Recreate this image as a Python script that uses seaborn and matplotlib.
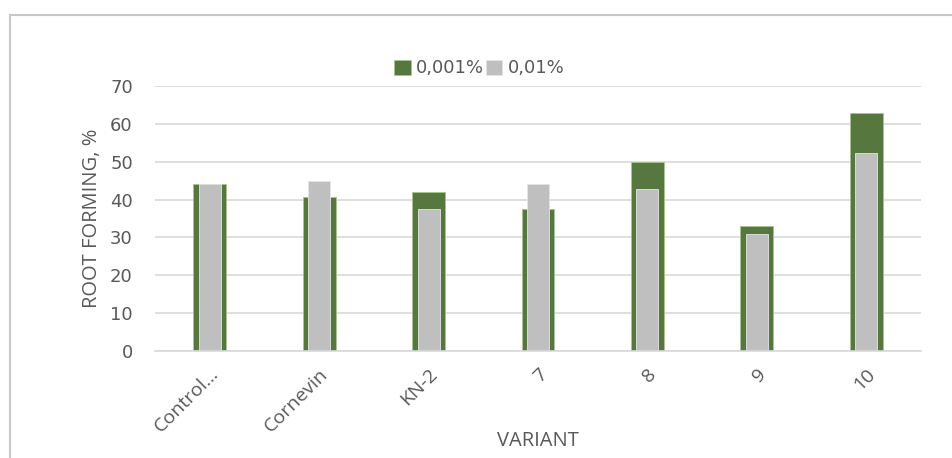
import pandas as pd
import matplotlib.pyplot as plt
import seaborn as sns
from matplotlib.lines import Line2D

# dados
variantes = ['Control...', 'Cornevin', 'KN-2', '7', '8', '9', '10']
conc_0001 = [44, 40.6, 42, 37.6, 50, 33, 63]
conc_001 = [44, 45, 37.6, 44, 42.7, 30.9, 52.2]
series = ['0,001%', '0,01%']
cores = ['#548235', '#BFBFBF']

df = pd.DataFrame({'Variant': variantes, series[0]: conc_0001, series[1]: conc_001})

sns.set_style('white')
plt.rcParams['font.family'] = ['Open Sans', 'DejaVu Sans']

fig = plt.figure(figsize=(9.53, 4.58), dpi=100)
ax = fig.add_axes([0.1627, 0.2336, 0.8037, 0.5786])

ax.yaxis.grid(True, color='#D9D9D9', linewidth=1.2)
ax.set_axisbelow(True)

sns.barplot(data=df, x='Variant', y=series[0], color=cores[0], width=0.3,
            edgecolor='#A9C48F', linewidth=0.6, ax=ax, label=series[0])
sns.barplot(data=df, x='Variant', y=series[1], color=cores[1], width=0.2,
            edgecolor='#E4E4E4', linewidth=0.6, ax=ax, label=series[1])

ax.set_ylim(0, 70)
ax.set_xlim(-0.5, len(variantes) - 0.5)
ax.set_yticks(range(0, 71, 10))
for s in ['top', 'right', 'left']:
    ax.spines[s].set_visible(False)
ax.spines['bottom'].set_color('#D9D9D9')
ax.spines['bottom'].set_linewidth(1.2)

ax.tick_params(axis='y', length=0, labelsize=13, labelcolor='#595959', pad=16)
ax.tick_params(axis='x', length=0, labelsize=14, labelcolor='#595959', pad=10)
for t in ax.get_yticklabels():
    t.set_family('DejaVu Sans')
plt.setp(ax.get_xticklabels(), rotation=45, ha='right', rotation_mode='anchor')

ax.set_xlabel('VARIANT', fontsize=14.5, color='#595959', labelpad=-4)
ax.set_ylabel('ROOT FORMING, %', fontsize=14.5, color='#595959', labelpad=6)

ax.legend(loc='center', bbox_to_anchor=(0.503, 0.851), bbox_transform=fig.transFigure,
          ncol=2, frameon=False, prop={'family': 'DejaVu Sans', 'size': 13},
          handlelength=0.9, handleheight=0.9,
          handletextpad=0.3, columnspacing=0.1, labelcolor='#595959')

# moldura do gráfico
fig.add_artist(Line2D([10 / 953, 1], [1 - 15 / 458] * 2, color='#C8C8C8', lw=1.5))
fig.add_artist(Line2D([10 / 953] * 2, [0, 1 - 15 / 458], color='#C8C8C8', lw=1.5))

fig.savefig('out.png', dpi=100)
